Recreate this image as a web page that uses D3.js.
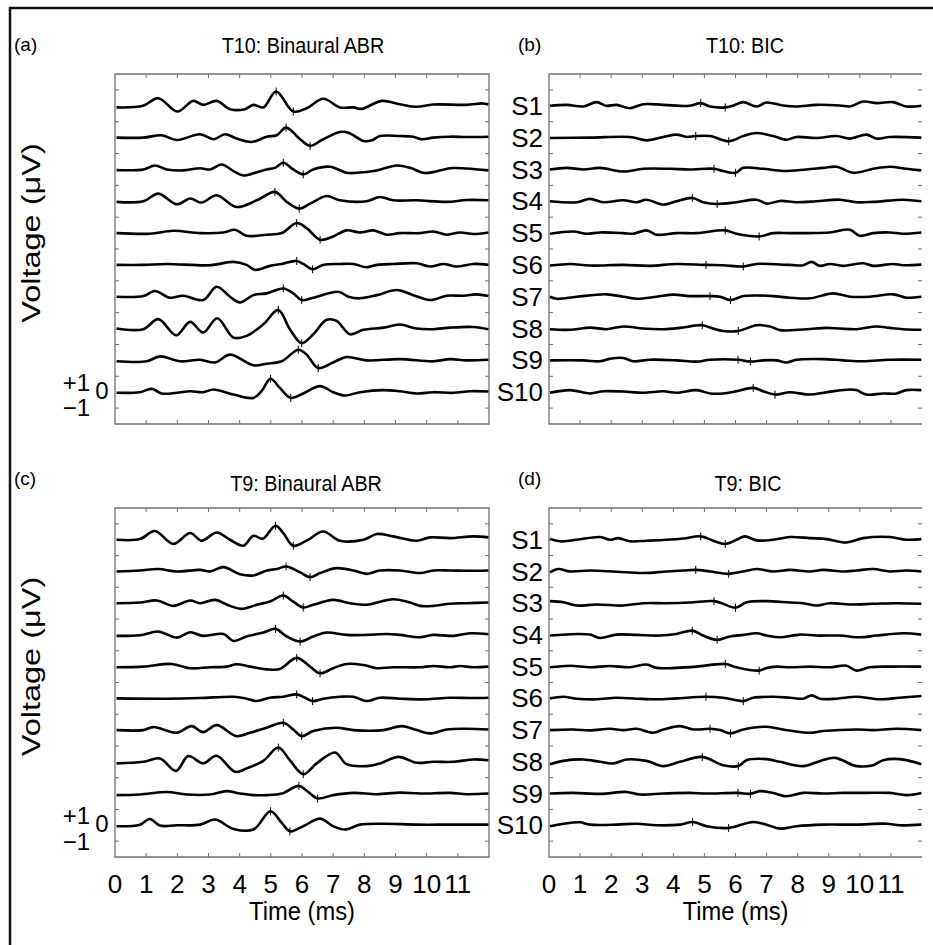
<!DOCTYPE html>
<html>
<head>
<meta charset="utf-8">
<script src="https://cdn.jsdelivr.net/npm/d3@7"></script>
<style>
  body { margin: 0; background: #fff; }
  svg text { font-family: "Liberation Sans", Arial, Helvetica, sans-serif; fill: #000; }
</style>
</head>
<body>
<div id="chart"></div>
<script>
// ABR / BIC traces, T10 (top) and T9 (bottom), subjects S1..S10

const subjects = ['S1', 'S2', 'S3', 'S4', 'S5', 'S6', 'S7', 'S8', 'S9', 'S10'];
const xTicks = [0, 1, 2, 3, 4, 5, 6, 7, 8, 9, 10, 11];
const yTicks = [-1, 1, 3, 5, 7, 9, 11, 13, 15, 17, 19];
const scaleLabels = ['+1', '0', '\u22121'];

// each trace: [time ms, voltage uV]
const abrT10 = [
  [[0.05,-0.1],[0.9,0],[1.39,0.48],[2.0,-0.36],[2.51,0.31],[2.83,0.06],[3.26,0.31],[3.69,-0.21],[4.17,-0.21],[4.44,0.06],[4.76,-0.1],[5.17,0.9],[5.72,-0.36],[6.15,-0.15],[6.68,0.44],[7.22,-0.1],[7.65,-0.1],[7.91,-0.19],[8.56,0.31],[9.14,0.1],[9.68,-0.06],[10.2,0.08],[11.28,0.06],[11.8,0.15],[11.98,0.08]],
  [[0.05,0],[0.91,0],[1.5,0.15],[1.98,-0.15],[2.73,0.21],[3.16,-0.1],[3.53,0.21],[3.9,-0.06],[4.39,-0.27],[4.87,0.06],[5.19,0.15],[5.49,0.63],[5.94,-0.1],[6.26,-0.52],[6.68,-0.1],[7.22,0.36],[7.49,0.31],[7.97,-0.21],[8.24,-0.17],[8.5,0.1],[9.14,0.1],[9.57,0.06],[9.84,-0.1],[10.21,0],[10.75,0.06],[11.28,0.04],[11.98,0.06]],
  [[0.05,-0.04],[0.91,0],[1.28,0.25],[1.66,0],[2.19,-0.06],[2.73,0.08],[3.05,0],[3.42,0.31],[3.8,-0.1],[4.12,-0.38],[4.55,-0.17],[4.87,0],[5.13,0.1],[5.4,0.42],[5.72,0],[6.04,-0.31],[6.36,0],[6.9,0.17],[7.43,-0.21],[7.75,-0.21],[8.4,-0.06],[9.04,0.25],[9.47,0.1],[9.89,-0.21],[10.21,-0.17],[10.75,0.08],[11.28,0.06],[11.98,-0.06]],
  [[0.05,-0.04],[0.91,0],[1.39,0.48],[1.98,-0.19],[2.41,0.17],[2.78,-0.08],[3.26,0.38],[3.9,-0.36],[4.55,0.06],[5.13,0.59],[5.51,-0.04],[5.91,-0.46],[6.26,-0.15],[6.79,0.33],[7.22,0.06],[8.07,0],[8.5,0.27],[8.93,0.06],[9.68,0.06],[10.64,-0.04],[11.28,0.08],[11.98,0.06]],
  [[0.05,0],[1.12,-0.04],[1.87,0.15],[2.73,0],[3.48,0.04],[3.85,0.21],[4.22,-0.17],[4.87,-0.1],[5.35,0],[5.83,0.63],[6.15,0.31],[6.58,-0.42],[7.0,-0.21],[7.43,0.17],[7.86,0.04],[8.29,0.17],[8.72,-0.1],[9.14,0],[9.79,0],[10.21,0.1],[10.64,-0.1],[11.07,0.04],[11.5,-0.06],[11.98,0.04]],
  [[0.05,0],[0.91,0],[1.66,0.06],[3.05,-0.02],[3.8,0.19],[4.22,0],[4.49,-0.31],[4.97,-0.06],[5.35,0.06],[5.83,0.25],[6.04,0.06],[6.34,-0.27],[6.68,0],[7.22,0.06],[7.65,0.06],[8.07,-0.15],[8.4,0],[8.93,0.06],[9.68,0.1],[10.11,-0.1],[10.54,0.06],[10.96,-0.1],[11.5,0.06],[11.98,0]],
  [[0.05,0],[0.91,0.04],[1.28,0.36],[1.76,-0.06],[2.19,0.06],[2.83,-0.21],[3.26,0.63],[3.69,0],[4.01,-0.36],[4.44,0.1],[4.87,0.21],[5.4,0.52],[5.72,0.21],[5.99,-0.21],[6.36,-0.06],[7.17,0.31],[7.49,0],[7.86,-0.1],[8.4,0.1],[9.04,0.42],[9.57,0.1],[10.11,-0.21],[10.64,0.06],[11.18,0.06],[11.6,0.15],[11.98,0.04]],
  [[0.05,0],[0.91,-0.04],[1.39,0.59],[1.96,-0.42],[2.41,0.42],[2.83,-0.25],[3.28,0.65],[3.8,-0.57],[4.22,-0.46],[4.76,0.27],[5.24,1.17],[5.61,-0.04],[5.99,-0.92],[6.36,-0.36],[6.79,0.55],[7.11,0.48],[7.54,-0.36],[7.97,-0.08],[8.61,0.06],[9.14,0.25],[9.68,0],[10.21,-0.04],[10.75,0.06],[11.5,0.1],[11.98,-0.04]],
  [[0.05,-0.06],[1.02,-0.06],[1.44,0.25],[2.09,-0.06],[2.73,0.04],[3.21,-0.13],[3.69,0.36],[4.44,-0.31],[4.87,-0.21],[5.35,-0.06],[5.88,0.67],[6.15,0.36],[6.52,-0.48],[7.0,-0.13],[7.43,0.21],[8.07,0],[9.14,0.08],[10.21,-0.06],[10.75,0.08],[11.28,0],[11.98,0.04]],
  [[0.05,-0.04],[0.8,0],[1.18,0.21],[1.5,-0.08],[1.98,-0.04],[2.41,0.06],[2.83,0],[3.16,0.17],[3.8,-0.15],[4.44,-0.36],[4.7,0.06],[4.99,0.84],[5.29,0.27],[5.64,-0.36],[6.04,-0.08],[6.58,0.38],[7.0,0],[7.38,-0.21],[7.86,0],[8.61,0.13],[9.14,0.06],[9.68,-0.08],[10.21,0],[10.86,-0.04],[11.39,0.06],[11.98,0.04]]
];
const abrT10Marks = [[5.17,5.72],[5.49,6.26],[5.4,6.04],[5.13,5.91],[5.83,6.58],[5.83,6.34],[5.4,5.99],[5.24,5.99],[5.88,6.52],[4.99,5.64]];

const bicT10 = [
  [[0.03,0],[0.57,0.06],[1.1,-0.04],[1.53,0.23],[1.85,0],[2.17,0.06],[2.6,-0.15],[3.03,0.1],[3.68,0.06],[4.53,0],[4.88,0.17],[5.18,-0.04],[5.67,-0.1],[5.93,0.02],[6.25,0.23],[6.68,-0.04],[7.0,0.21],[7.53,0.02],[7.96,-0.04],[8.6,0.06],[9.36,0.02],[9.68,-0.04],[10.11,0.27],[10.54,0.17],[11.07,0.23],[11.5,-0.04],[11.98,0]],
  [[0.03,-0.02],[1.32,0],[2.6,0.04],[3.14,-0.17],[3.68,0.04],[4.1,0.19],[4.43,0.04],[4.72,0.1],[5.18,0.1],[5.78,-0.23],[6.25,0.1],[6.68,0.29],[7.21,0.1],[7.64,-0.13],[7.96,0.04],[8.6,-0.02],[9.25,0.1],[9.68,-0.06],[10.21,0.19],[10.54,-0.06],[10.96,0.04],[11.98,0]],
  [[0.03,0],[0.57,0.1],[1.1,0],[1.64,0.1],[2.39,-0.13],[3.03,0.04],[3.89,0.04],[4.53,0],[5.31,0.04],[5.6,-0.1],[6.0,-0.21],[6.25,0.1],[6.89,0.04],[7.53,-0.1],[8.28,0],[8.82,0.1],[9.25,0.17],[9.79,-0.21],[10.43,0.04],[10.96,0.17],[11.5,0.04],[11.98,-0.06]],
  [[0.03,0],[0.89,-0.06],[1.32,0.15],[1.75,-0.06],[2.39,0.06],[2.82,-0.06],[3.14,0.1],[3.68,-0.21],[4.1,0],[4.61,0.21],[4.96,-0.06],[5.41,-0.17],[6.03,-0.06],[6.68,0.1],[7.0,-0.15],[7.43,0.02],[7.96,-0.06],[8.6,0],[9.36,0.1],[9.89,-0.06],[10.43,-0.04],[11.39,0.1],[11.98,0]],
  [[0.03,-0.04],[0.78,0.1],[1.21,-0.04],[1.64,0.04],[2.39,0],[2.71,-0.04],[3.14,0.17],[3.46,-0.1],[4.1,0],[4.75,0],[5.67,0.17],[6.03,-0.04],[6.76,-0.21],[7.21,0],[7.75,0],[8.39,0],[9.03,0.04],[9.68,0.21],[10.0,-0.17],[10.43,0],[10.96,0.04],[11.39,-0.04],[11.98,0.04]],
  [[0.03,-0.04],[0.68,0.06],[1.32,-0.04],[2.39,0],[3.25,-0.06],[4.1,0.06],[5.05,0],[5.6,-0.02],[6.25,-0.1],[6.68,0.06],[7.75,0],[8.18,-0.02],[8.45,0.19],[8.71,-0.06],[9.03,0.06],[9.46,-0.06],[10.11,0.1],[10.43,-0.06],[11.07,0.06],[11.39,-0.02],[11.98,0.02]],
  [[0.03,0],[0.25,-0.13],[0.89,0],[1.85,0.15],[2.39,0],[2.82,-0.13],[3.46,0],[4.0,0.13],[4.53,0.04],[5.18,0.04],[5.5,0],[5.84,-0.21],[6.25,0.04],[6.68,0.08],[7.21,0.04],[7.75,-0.06],[8.39,-0.1],[9.14,0.21],[9.68,0],[10.32,0],[11.07,0.15],[11.5,-0.06],[11.98,0]],
  [[0.03,-0.04],[0.68,-0.08],[1.32,0.06],[1.85,-0.04],[2.39,0.13],[3.03,0],[3.68,-0.04],[4.21,0.04],[4.93,0.21],[5.28,0],[5.6,-0.15],[6.09,-0.15],[6.68,0.21],[7.11,0.13],[7.43,-0.1],[8.28,-0.04],[8.93,0.04],[9.36,0],[9.89,-0.04],[10.54,0.13],[10.96,0.04],[11.39,-0.04],[11.98,-0.08]],
  [[0.03,0],[1.1,0],[1.64,-0.06],[1.96,0.1],[2.39,0.15],[2.71,-0.06],[3.25,0.04],[4.1,0],[4.75,-0.08],[5.18,0.04],[6.08,0.04],[6.48,-0.08],[6.89,0],[7.32,0],[7.64,-0.13],[7.96,0.04],[8.82,0.08],[9.46,0],[10.11,-0.06],[10.96,0.04],[11.98,0.04]],
  [[0.03,-0.04],[0.68,0.13],[1.32,-0.08],[1.75,0.06],[2.39,0.04],[3.03,-0.04],[3.68,0.06],[4.1,-0.04],[4.75,0.13],[5.18,-0.08],[5.6,-0.08],[6.03,0.06],[6.57,0.27],[6.89,0.06],[7.27,-0.15],[7.75,0],[8.39,-0.15],[8.93,0],[9.68,0.17],[9.89,0.13],[10.21,-0.15],[10.75,-0.08],[11.18,-0.08],[11.5,0.13],[11.98,0.13]]
];
const bicT10Marks = [[4.88,5.67],[4.72,5.78],[5.31,6.0],[4.61,5.41],[5.67,6.76],[5.05,6.25],[5.18,5.84],[4.93,6.09],[6.08,6.48],[6.57,7.27]];

const abrT9 = [
  [[0.05,0],[0.8,0.04],[1.28,0.55],[1.87,-0.27],[2.41,0.42],[2.78,-0.06],[3.26,0.46],[3.69,0],[4.12,-0.38],[4.44,0.25],[4.74,0.06],[5.15,0.88],[5.4,0.42],[5.72,-0.38],[6.15,-0.06],[6.68,0.52],[7.22,-0.06],[7.97,0],[8.4,0.36],[8.93,0.21],[9.68,-0.06],[10.11,0.15],[10.75,0.1],[11.5,0.21],[11.98,0.15]],
  [[0.05,0],[0.8,0.06],[1.39,0.15],[1.98,0],[2.73,0.1],[3.05,0],[3.48,0.27],[4.01,-0.17],[4.44,-0.25],[4.87,0.06],[5.19,0.15],[5.49,0.31],[5.94,-0.06],[6.26,-0.36],[6.58,-0.1],[7.11,0.21],[7.65,0.06],[8.07,-0.15],[8.5,0.06],[9.14,0.06],[9.79,-0.1],[10.21,0.06],[10.75,0.06],[11.28,0.04],[11.98,0.06]],
  [[0.05,0],[0.8,0.04],[1.34,0.17],[1.87,-0.17],[2.41,0.17],[2.73,0],[3.21,0.21],[3.69,-0.17],[4.06,-0.36],[4.55,-0.1],[4.97,0.1],[5.4,0.48],[5.72,0.1],[6.04,-0.27],[6.36,-0.1],[7.0,0.21],[7.54,0],[8.07,-0.1],[8.93,0.25],[9.47,0.04],[9.79,-0.17],[10.21,-0.17],[10.75,-0.04],[11.28,0],[11.98,0.04]],
  [[0.05,-0.06],[0.8,-0.02],[1.39,0.21],[1.98,-0.17],[2.41,0.17],[2.83,-0.06],[3.48,0.06],[3.8,-0.38],[4.22,-0.1],[4.76,0.15],[5.15,0.38],[5.51,-0.1],[5.94,-0.42],[6.36,-0.1],[6.79,0.15],[7.43,0],[8.07,0],[8.72,0.06],[9.14,0],[9.79,-0.15],[10.21,0],[10.86,-0.06],[11.39,0.1],[11.98,0.04]],
  [[0.05,-0.04],[0.91,0],[1.82,0.17],[2.41,-0.1],[3.05,-0.04],[3.58,0],[3.9,0.15],[4.33,0],[4.87,-0.17],[5.29,-0.15],[5.83,0.55],[6.26,0],[6.58,-0.42],[7.0,-0.1],[7.43,0.17],[7.97,0.1],[8.4,-0.1],[8.93,-0.04],[9.79,-0.04],[10.21,0.04],[10.75,-0.04],[11.07,0.04],[11.5,-0.04],[11.98,0]],
  [[0.05,0],[1.66,-0.02],[2.73,0.02],[3.8,0.1],[4.22,-0.02],[4.55,-0.17],[4.97,0.04],[5.4,0.1],[5.83,0.25],[6.1,0.04],[6.34,-0.17],[6.68,-0.02],[7.22,0.1],[7.65,0.1],[8.07,-0.17],[8.5,0.04],[9.14,-0.02],[9.97,-0.06],[10.75,0.04],[11.5,0.02],[11.98,0.04]],
  [[0.05,0],[0.91,0],[1.23,0.19],[1.98,-0.17],[2.46,0.25],[2.83,-0.13],[3.26,0.31],[3.9,-0.38],[4.33,-0.17],[4.87,0.15],[5.4,0.46],[5.72,0.04],[5.99,-0.38],[6.36,-0.06],[7.11,0.15],[7.65,0],[8.61,0],[9.2,0.25],[9.68,0],[10.11,-0.21],[10.64,0.04],[11.28,0.08],[11.98,0.04]],
  [[0.05,-0.1],[0.91,0],[1.44,0.21],[1.96,-0.57],[2.35,0.36],[2.83,-0.1],[3.26,0.38],[3.85,-0.63],[4.22,-0.42],[4.76,0.06],[5.24,0.9],[5.61,0.1],[6.04,-0.78],[6.47,-0.1],[7.06,0.59],[7.43,-0.15],[8.07,-0.27],[8.5,-0.1],[9.09,0.31],[9.68,-0.06],[10.21,0],[10.86,0],[11.5,0.15],[11.98,0.1]],
  [[0.05,-0.1],[0.8,-0.06],[1.66,0.1],[2.3,-0.06],[3.05,-0.06],[3.58,0.15],[4.01,0],[4.44,-0.1],[4.87,-0.1],[5.35,0],[5.9,0.48],[6.2,0.1],[6.5,-0.31],[7.0,-0.1],[7.65,0.04],[8.4,-0.04],[9.14,0.06],[9.79,0],[10.75,0.04],[11.28,-0.04],[11.98,0]],
  [[0.05,-0.06],[0.8,0.04],[1.12,0.4],[1.44,-0.02],[1.98,0],[2.73,0.04],[3.21,0.36],[3.8,-0.23],[4.44,-0.27],[4.99,0.88],[5.35,0.15],[5.61,-0.38],[6.04,-0.06],[6.58,0.42],[7.0,-0.06],[7.38,-0.27],[7.86,0.04],[8.61,0.1],[9.68,0.04],[10.75,0.04],[11.98,0.04]]
];
const abrT9Marks = [[5.15,5.72],[5.49,6.26],[5.4,6.04],[5.15,5.94],[5.83,6.58],[5.83,6.34],[5.4,5.99],[5.24,6.04],[5.9,6.5],[4.99,5.61]];

const bicT9 = [
  [[0.03,0.04],[0.35,-0.1],[0.89,0],[1.64,0.17],[1.96,0],[2.23,0.1],[2.6,-0.1],[3.14,-0.06],[3.78,0],[4.32,0.08],[4.88,0.21],[5.28,-0.06],[5.67,-0.27],[6.03,0],[6.3,0.21],[6.68,-0.04],[7.21,0],[7.75,0.17],[8.39,0.1],[8.93,0.04],[9.57,-0.17],[10.11,0.1],[10.96,0.17],[11.5,0],[11.98,0.04]],
  [[0.03,-0.06],[0.3,0.15],[0.68,0],[1.32,0.06],[2.18,-0.02],[3.03,-0.1],[3.78,0],[4.32,0.06],[4.72,0.1],[5.18,0],[5.78,-0.15],[6.25,0],[6.68,0.15],[7.21,0],[7.75,0.1],[8.39,0],[8.82,0.1],[9.46,0],[9.89,0.06],[10.43,0.15],[10.96,0],[11.5,0.06],[11.98,0]],
  [[0.03,0.13],[0.46,0.06],[0.89,-0.15],[1.53,-0.08],[2.39,-0.15],[3.03,0],[3.78,0],[4.53,0.04],[5.31,0.13],[5.6,-0.04],[6.0,-0.29],[6.36,0.06],[7.0,0.13],[7.75,0.04],[8.18,0],[8.6,-0.15],[9.03,0],[9.68,-0.08],[10.43,-0.04],[11.18,0],[11.98,-0.04]],
  [[0.03,-0.04],[0.89,0.06],[1.32,0.02],[1.64,-0.19],[2.18,0.02],[2.82,0],[3.57,-0.04],[4.1,0.06],[4.61,0.27],[4.96,-0.04],[5.41,-0.31],[5.82,-0.1],[6.25,0],[6.68,0.1],[7.0,-0.04],[7.43,-0.15],[8.07,0.02],[8.6,-0.04],[9.36,-0.04],[10.0,-0.15],[10.54,-0.04],[11.39,0.1],[11.98,0.02]],
  [[0.03,-0.04],[0.68,0.06],[1.32,-0.04],[1.96,0.04],[2.6,-0.04],[3.14,0.13],[3.46,-0.08],[4.1,-0.08],[4.75,0],[5.67,0.17],[6.03,-0.04],[6.76,-0.25],[7.0,-0.08],[7.32,0],[7.75,-0.04],[8.39,0],[9.03,-0.04],[9.57,0.06],[9.89,-0.25],[10.32,-0.04],[10.96,0],[11.98,0]],
  [[0.03,0],[0.46,0.1],[0.89,-0.02],[1.53,-0.06],[2.18,0.04],[2.82,-0.02],[3.46,-0.06],[4.1,0],[5.05,0.1],[5.6,0.04],[6.25,-0.17],[6.57,0.04],[7.21,0.1],[7.75,0.04],[8.18,-0.02],[8.45,0.19],[8.71,-0.02],[9.25,-0.02],[9.89,0.1],[10.64,-0.06],[11.28,0.04],[11.98,0.15]],
  [[0.03,0],[0.78,0.04],[1.32,-0.02],[1.96,0.08],[2.39,0],[2.82,0.08],[3.35,-0.17],[3.68,0.04],[4.21,0.25],[4.64,0.04],[5.18,0.08],[5.5,0],[5.84,-0.21],[6.25,0.04],[7.0,0.21],[7.53,0.04],[8.39,-0.17],[8.82,-0.06],[9.89,0.04],[10.43,0],[11.18,0.08],[11.98,0]],
  [[0.03,-0.15],[0.46,0.06],[1.1,0.15],[1.64,0],[2.07,-0.1],[2.5,0.15],[3.14,0.06],[3.68,-0.27],[4.21,0],[4.93,0.31],[5.6,-0.21],[6.09,-0.27],[6.35,0.1],[7.0,0.17],[7.43,0],[8.18,-0.27],[8.71,0.04],[9.2,0.25],[9.89,-0.27],[10.43,-0.21],[10.75,0.1],[11.28,0.17],[11.98,-0.15]],
  [[0.03,0],[0.78,0.04],[1.64,-0.02],[2.5,0.1],[2.92,-0.06],[3.68,0],[4.53,0.04],[5.07,0],[6.08,0.04],[6.48,-0.02],[6.78,0.15],[7.21,0.04],[7.64,-0.17],[8.18,0.04],[8.82,0],[9.46,0.04],[10.21,0.04],[10.96,0.04],[11.5,-0.1],[11.98,0.04]],
  [[0.03,-0.06],[0.46,0.1],[0.99,0.19],[1.32,0.04],[2.18,0.04],[2.82,0.1],[3.46,0],[4.21,0.04],[4.62,0.21],[5.07,-0.06],[5.78,-0.17],[6.57,0.21],[7.0,0.04],[7.43,-0.21],[7.96,-0.06],[8.82,0.04],[9.89,0.04],[10.86,0.1],[11.28,0],[11.98,0.04]]
];
const bicT9Marks = [[4.88,5.67],[4.72,5.78],[5.31,6.0],[4.61,5.41],[5.67,6.76],[5.05,6.25],[5.18,5.84],[4.93,6.09],[6.08,6.48],[4.62,5.78]];

const panels = [
  {tag: '(a)', title: 'T10: Binaural ABR', traces: abrT10, marks: abrT10Marks, x0: 115, x1: 489, y0: 74, y1: 424, left: true,  bottom: false, titleX: 303, titleY: 53},
  {tag: '(b)', title: 'T10: BIC',          traces: bicT10, marks: bicT10Marks, x0: 549, x1: 922, y0: 74, y1: 424, left: false, bottom: false, titleX: 745, titleY: 53},
  {tag: '(c)', title: 'T9: Binaural ABR',  traces: abrT9,  marks: abrT9Marks,  x0: 115, x1: 489, y0: 508, y1: 857, left: true,  bottom: true,  titleX: 306, titleY: 491},
  {tag: '(d)', title: 'T9: BIC',           traces: bicT9,  marks: bicT9Marks,  x0: 549, x1: 922, y0: 508, y1: 857, left: false, bottom: true,  titleX: 748, titleY: 491}
];

const W = 933, H = 945;
const svg = d3.select('#chart').append('svg')
    .attr('width', W)
    .attr('height', H);

// outer frame (only top and left edges show in the picture)
svg.append('path')
    .attr('d', `M10,${H} L10,8 L${W},8`)
    .attr('fill', 'none')
    .attr('stroke', '#111')
    .attr('stroke-width', 2.5);

function valueAt(pts, t) {
    const i = d3.bisector(d => d[0]).left(pts, t);
    if (i <= 0) return pts[0][1];
    if (i >= pts.length) return pts[pts.length - 1][1];
    const a = pts[i - 1], b = pts[i];
    return a[1] + (b[1] - a[1]) * (t - a[0]) / (b[0] - a[0]);
}

const boxColor = '#707070';

panels.forEach(p => {
    const x = d3.scaleLinear().domain([0, 12]).range([p.x0, p.x1]);
    const y = d3.scaleLinear().domain([-2, 20]).range([p.y1, p.y0]);
    const offset = i => 18 - 2 * i;
    const g = svg.append('g');

    // box: right-hand column has no visible right edge
    const boxPath = p.left
        ? `M${p.x0},${p.y0}H${p.x1}V${p.y1}H${p.x0}Z`
        : `M${p.x1},${p.y0}H${p.x0}V${p.y1}H${p.x1}`;
    g.append('path')
        .attr('d', boxPath)
        .attr('fill', 'none')
        .attr('stroke', boxColor)
        .attr('stroke-width', 1.3);

    // inward ticks on all four sides
    const xt = xTicks.filter(d => d > 0);
    g.selectAll('.xtb').data(xt).enter().append('line')
        .attr('x1', d => x(d)).attr('x2', d => x(d))
        .attr('y1', p.y1).attr('y2', p.y1 - 4)
        .attr('stroke', boxColor);
    g.selectAll('.xtt').data(xt).enter().append('line')
        .attr('x1', d => x(d)).attr('x2', d => x(d))
        .attr('y1', p.y0).attr('y2', p.y0 + 4)
        .attr('stroke', boxColor);
    g.selectAll('.ytl').data(yTicks).enter().append('line')
        .attr('x1', p.x0).attr('x2', p.x0 + 4)
        .attr('y1', d => y(d)).attr('y2', d => y(d))
        .attr('stroke', boxColor);
    g.selectAll('.ytr').data(yTicks).enter().append('line')
        .attr('x1', p.x1).attr('x2', p.x1 - 4)
        .attr('y1', d => y(d)).attr('y2', d => y(d))
        .attr('stroke', boxColor);

    // traces
    p.traces.forEach((tr, i) => {
        const line = d3.line()
            .x(d => x(d[0]))
            .y(d => y(d[1] + offset(i)))
            .curve(d3.curveCatmullRom.alpha(0.5));
        g.append('path')
            .datum(tr)
            .attr('d', line)
            .attr('fill', 'none')
            .attr('stroke', '#000')
            .attr('stroke-width', 2.6)
            .attr('stroke-linejoin', 'round');

        // peak / trough markers
        p.marks[i].forEach(t => {
            const yy = y(valueAt(tr, t) + offset(i));
            g.append('line')
                .attr('x1', x(t)).attr('x2', x(t))
                .attr('y1', yy - 4).attr('y2', yy + 4)
                .attr('stroke', '#000')
                .attr('stroke-width', 1);
        });
    });

    // panel tag and title
    g.append('text')
        .attr('x', p.left ? 14 : 518)
        .attr('y', p.y0 - 23)
        .style('font-size', '19px')
        .text(p.tag);
    g.append('text')
        .attr('transform', `translate(${p.titleX},${p.titleY}) scale(0.9,1)`)
        .attr('text-anchor', 'middle')
        .style('font-size', '22px')
        .text(p.title);

    if (p.left) {
        // y label, drawn long and narrow like the source
        g.append('text')
            .attr('transform', `translate(40,${(p.y0 + p.y1) / 2 - 16}) rotate(-90) scale(1.3,1)`)
            .attr('text-anchor', 'middle')
            .style('font-size', '25px')
            .text('Voltage (\u03bcV)');
        // +1 / 0 / -1 scale next to S10
        const base = offset(9);
        g.append('text').attr('x', 90).attr('y', y(base + 0.6)).attr('dy', '0.35em')
            .attr('text-anchor', 'end').style('font-size', '24px').text(scaleLabels[0]);
        g.append('text').attr('x', 102).attr('y', y(base + 0.1)).attr('dy', '0.35em')
            .attr('text-anchor', 'middle').style('font-size', '24px').text(scaleLabels[1]);
        g.append('text').attr('x', 90).attr('y', y(base - 1)).attr('dy', '0.35em')
            .attr('text-anchor', 'end').style('font-size', '24px').text(scaleLabels[2]);
    } else {
        // subject labels between the columns
        g.selectAll('.subj').data(subjects).enter().append('text')
            .attr('x', p.x0 - 6)
            .attr('y', (d, i) => y(offset(i)))
            .attr('dy', '0.35em')
            .attr('text-anchor', 'end')
            .style('font-size', '26px')
            .text(d => d);
    }

    if (p.bottom) {
        g.selectAll('.xl').data(xTicks).enter().append('text')
            .attr('x', d => x(d))
            .attr('y', p.y1 + 36)
            .attr('text-anchor', 'middle')
            .style('font-size', '26px')
            .text(d => d);
        g.append('text')
            .attr('transform', `translate(${(p.x0 + p.x1) / 2},${p.y1 + 63}) scale(0.95,1)`)
            .attr('text-anchor', 'middle')
            .style('font-size', '25px')
            .text('Time (ms)');
    }
});
</script>
</body>
</html>
